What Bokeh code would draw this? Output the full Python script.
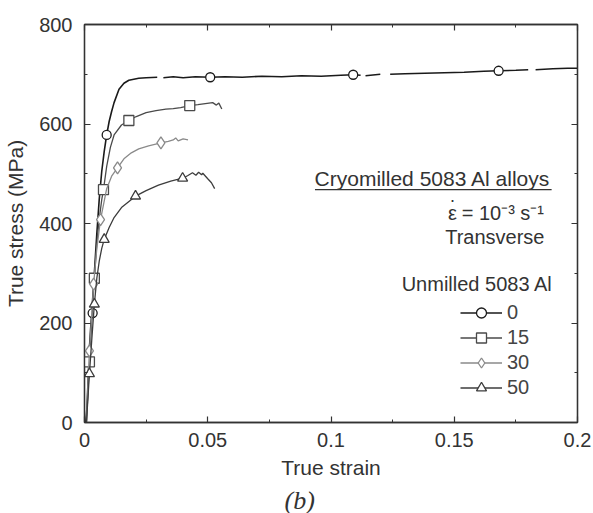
from bokeh.plotting import figure
from bokeh.models import (Range1d, FixedTicker, LinearAxis, Label, Legend,
                          LegendItem, BoxAnnotation, Title)
from bokeh.embed import file_html
from bokeh.resources import INLINE

nan = float("nan")

# ---- tensile curves (true strain, true stress in MPa) ----
strain_0 = [0.0005, 0.001, 0.0015, 0.002, 0.0025, 0.003, 0.004, 0.005, 0.006, 0.007,
            0.008, 0.009, 0.010, 0.011, 0.012, 0.014, 0.016, 0.018, 0.020, 0.022,
            0.025, 0.0295, nan, 0.032, 0.036, 0.040, 0.045, 0.051, 0.057, 0.064,
            0.072, 0.080, 0.088, 0.096, 0.104, 0.109, 0.112, nan, 0.114, 0.120,
            nan, 0.124, 0.130, 0.138, 0.146, 0.154, 0.162, 0.168, 0.175, 0.180,
            nan, 0.183, 0.190, 0.196, 0.200]
stress_0 = [0, 30, 90, 150, 190, 225, 300, 380, 450, 505,
            545, 578, 605, 625, 643, 670, 682, 688, 690, 692,
            693, 694, nan, 693, 695, 693, 695, 694, 695, 694,
            696, 695, 697, 696, 698, 699, 698, nan, 697, 700,
            nan, 700, 701, 702, 703, 704, 706, 707, 708, 709,
            nan, 709, 711, 712, 712]

strain_15 = [0.0008, 0.0012, 0.0016, 0.002, 0.003, 0.004, 0.005, 0.006, 0.007, 0.0077,
             0.009, 0.0105, 0.012, 0.015, 0.018, 0.021, 0.025, 0.029, 0.033, 0.036,
             0.039, 0.0427, 0.046, 0.049, 0.052, 0.0535, 0.0545, 0.0557]
stress_15 = [0, 40, 80, 122, 210, 290, 360, 410, 448, 468,
             515, 553, 578, 598, 607, 615, 623, 627, 630, 631,
             633, 637, 639, 641, 643, 638, 642, 630]

strain_30 = [0.0008, 0.0012, 0.0016, 0.002, 0.003, 0.0037, 0.005, 0.0065, 0.009, 0.011,
             0.0134, 0.016, 0.019, 0.022, 0.026, 0.031, 0.034, 0.036, 0.037, 0.038,
             0.040, 0.042]
stress_30 = [0, 50, 100, 144, 220, 278, 350, 408, 470, 495,
             512, 530, 542, 550, 556, 562, 565, 568, 572, 566,
             570, 568]

strain_50 = [0.0008, 0.0014, 0.002, 0.003, 0.004, 0.005, 0.006, 0.007, 0.008, 0.010,
             0.012, 0.015, 0.0207, 0.025, 0.030, 0.035, 0.0398, 0.0418, 0.0438, 0.0452,
             0.0463, 0.0475, 0.048, 0.050, 0.0515, 0.0528]
stress_50 = [0, 50, 98, 170, 238, 290, 325, 350, 368, 392,
             412, 432, 455, 466, 477, 485, 491, 496, 502, 497,
             503, 498, 501, 490, 482, 470]

# ---- symbol positions along each curve ----
mark_strain_0 = [0.0033, 0.009, 0.051, 0.109, 0.168]
mark_stress_0 = [220, 578, 694, 699, 707]
mark_strain_15 = [0.002, 0.004, 0.0077, 0.018, 0.0427]
mark_stress_15 = [122, 290, 468, 607, 637]
mark_strain_30 = [0.002, 0.0037, 0.0065, 0.0134, 0.031]
mark_stress_30 = [144, 278, 408, 512, 562]
mark_strain_50 = [0.002, 0.004, 0.008, 0.0207, 0.0398]
mark_stress_50 = [98, 238, 368, 455, 491]

series_labels = ["0", "15", "30", "50"]

# ---- axis ticks ----
x_ticks = [0, 0.05, 0.1, 0.15, 0.2]
x_tick_labels = ["0", "0.05", "0.1", "0.15", "0.2"]
x_minor = [0.025, 0.075, 0.125, 0.175]
y_ticks = [0, 200, 400, 600, 800]
y_minor = [100, 300, 500, 700]

FONT = "Liberation Sans"
TXT = "#333333"

p = figure(width=593, height=513, frame_width=493, frame_height=398,
           min_border_left=84, min_border_right=16, min_border_top=24,
           min_border_bottom=91, x_range=Range1d(0, 0.2), y_range=Range1d(0, 800),
           output_backend="svg", toolbar_location=None, background_fill_color="white")
p.grid.visible = False
p.outline_line_color = "#333333"
p.outline_line_width = 1.3

def style_axis(ax, labels=True):
    ax.axis_line_color = "#333333"
    ax.axis_line_width = 1.3
    ax.major_tick_in = 6
    ax.major_tick_out = 0
    ax.minor_tick_in = 3
    ax.minor_tick_out = 0
    ax.major_tick_line_color = "#333333"
    ax.minor_tick_line_color = "#333333"
    ax.major_tick_line_width = 1.2
    ax.minor_tick_line_width = 1.0
    ax.major_label_text_font = FONT
    ax.major_label_text_font_size = "20px"
    ax.major_label_text_color = TXT
    ax.axis_label_text_font = FONT
    ax.axis_label_text_font_size = "21px"
    ax.axis_label_text_font_style = "normal"
    ax.axis_label_text_color = TXT
    if not labels:
        ax.major_label_standoff = 0

xa = p.xaxis[0]
xa.ticker = FixedTicker(ticks=x_ticks, minor_ticks=x_minor)
xa.major_label_overrides = dict(zip(x_ticks, x_tick_labels))
xa.axis_label = "True strain"
style_axis(xa)
xa.major_label_standoff = 10
xa.axis_label_standoff = 6

ya = p.yaxis[0]
ya.ticker = FixedTicker(ticks=y_ticks, minor_ticks=y_minor)
ya.axis_label = "True stress (MPa)"
style_axis(ya)
ya.major_label_standoff = 12
ya.axis_label_standoff = 9

# tick marks along the top and right edges, unlabeled
top = LinearAxis(ticker=FixedTicker(ticks=x_ticks, minor_ticks=x_minor))
style_axis(top, labels=False)
top.major_label_overrides = {t: "" for t in x_ticks}
p.add_layout(top, "above")
right = LinearAxis(ticker=FixedTicker(ticks=y_ticks, minor_ticks=y_minor))
style_axis(right, labels=False)
right.major_label_overrides = {t: "" for t in y_ticks}
p.add_layout(right, "right")

curves = [
    (strain_0, stress_0, mark_strain_0, mark_stress_0, "#1a1a1a", "circle", 9, 1.6),
    (strain_15, stress_15, mark_strain_15, mark_stress_15, "#4a4a4a", "square", 10, 1.3),
    (strain_30, stress_30, mark_strain_30, mark_stress_30, "#8a8a8a", "diamond", 12, 1.3),
    (strain_50, stress_50, mark_strain_50, mark_stress_50, "#3c3c3c", "triangle", 10, 1.3),
]

items = []
for (sx, sy, mx, my, col, mk, sz, lw), lab in zip(curves, series_labels):
    ln = p.line(sx, sy, line_color=col, line_width=lw)
    sc = p.scatter(mx, my, marker=mk, size=sz, fill_color="white",
                   line_color=col, line_width=1.3)
    items.append(LegendItem(label=lab, renderers=[ln, sc]))

legend = Legend(items=items, location=(376, 22), orientation="vertical",
                glyph_width=42, glyph_height=25, label_height=25,
                label_standoff=5, spacing=0, padding=0, margin=0,
                border_line_color=None, background_fill_alpha=0,
                label_text_font=FONT, label_text_font_size="20px",
                label_text_color="#444444")
p.add_layout(legend, "center")

# ---- text annotations ----
def add_label(x, y, text, align="right", size="20px", font=FONT, style="normal"):
    p.add_layout(Label(x=x, y=y, text=text, text_align=align, text_baseline="middle",
                       text_font=font, text_font_size=size, text_font_style=style,
                       text_color=TXT))

add_label(0.189, 490, "Cryomilled 5083 Al alloys", size="21px")
p.add_layout(BoxAnnotation(left=0.0935, right=0.1895, bottom=467, top=469.5,
                           fill_color="#333333", fill_alpha=1, line_color=None))
# strain rate: epsilon with an overdot, then the value
add_label(0.1493, 422, "ε", align="center")
add_label(0.1493, 448, "·", align="center", size="18px")
add_label(0.1530, 422, "= 10⁻³ s⁻¹", align="left")
add_label(0.1866, 372, "Transverse")
add_label(0.190, 279, "Unmilled 5083 Al")

# panel tag under the axis title
p.add_layout(Title(text="(b)", align="left", offset=200, standoff=4,
                   text_font="Liberation Serif", text_font_style="italic",
                   text_font_size="26px", text_color=TXT), "below")

open("out.html", "w").write(file_html(p, INLINE))
